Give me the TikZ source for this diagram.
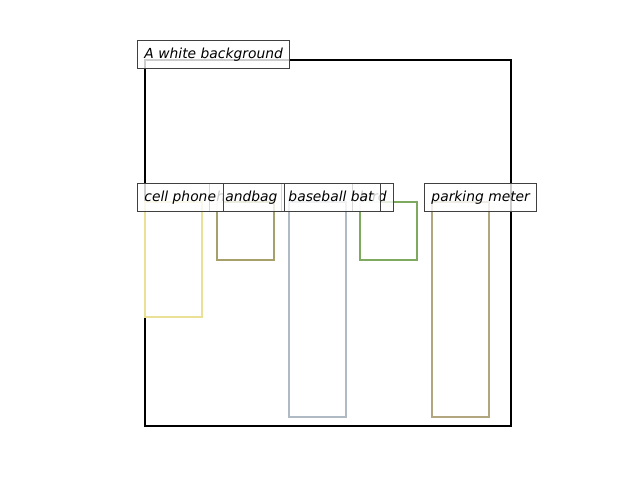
\documentclass[tikz,border=0pt]{standalone}
\usepackage{fontspec}
\setmainfont{DejaVu Sans}
\usepackage{xcolor}
\usepackage{tikz}
\usetikzlibrary{positioning}
\definecolor{phonecol}{RGB}{234,224,150}
\definecolor{bagcol}{RGB}{166,160,106}
\definecolor{batcol}{RGB}{176,186,196}
\definecolor{birdcol}{RGB}{126,170,96}
\definecolor{metercol}{RGB}{178,166,126}

\begin{document}
\begin{tikzpicture}[
    x=0.01in, y=-0.01in,
    objbox/.style={rectangle, line width=1.5pt, anchor=north west, minimum width=0.57in, inner sep=0pt},
    lbl/.style={rectangle, draw=black!75, line width=0.7pt, fill=white, fill opacity=0.8, text opacity=1,
        font=\itshape\fontsize{10}{12}\selectfont, text height=9.3pt, text depth=2.4pt,
        inner xsep=0.07in, inner ysep=0pt, minimum height=0.28in, anchor=west}
]
    \useasboundingbox (0,0) rectangle (640,480);
    % Frame
    \node[draw, line width=1.5pt, anchor=north west, minimum width=3.66in, minimum height=3.66in, inner sep=0pt] (frame) at (144,59) {};

    % Boxes
    \node[objbox, draw=phonecol, minimum height=1.15in] (phone) at (144,201) {};
    \node[objbox, draw=bagcol, minimum height=0.58in] (bag) at (216,201) {};
    \node[objbox, draw=batcol, minimum height=2.15in] (bat) at (288,201) {};
    \node[objbox, draw=birdcol, minimum height=0.58in] (bird) at (359,201) {};
    \node[objbox, draw=metercol, minimum height=2.15in] (meter) at (431,201) {};

    % Labels
    \node[lbl] (framelbl) at ([shift={(-7,-5)}]frame.north west) {A white background};
    \node[lbl] (meterlbl) at ([shift={(-7,-4)}]meter.north west) {parking meter};
    \node[lbl] (birdlbl) at ([shift={(-7,-4)}]bird.north west) {bird};
    \node[lbl] (batlbl) at ([shift={(-7,-4)}]bat.north west) {baseball bat};
    \node[lbl] (baglbl) at ([shift={(-7,-4)}]bag.north west) {handbag};
    \node[lbl] (phonelbl) at ([shift={(-7,-4)}]phone.north west) {cell phone};
\end{tikzpicture}
\end{document}
